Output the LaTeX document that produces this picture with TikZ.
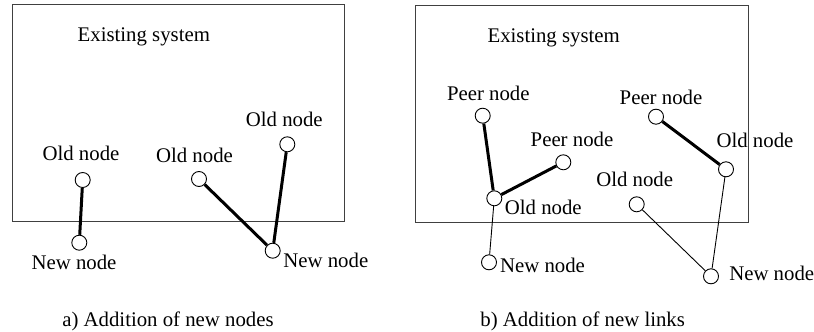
\documentclass[tikz,border=0pt]{standalone}
\usepackage{fontspec}
\setmainfont{Liberation Serif}
\begin{document}
\begin{tikzpicture}[x=1pt,y=-1pt,
  pt/.style={circle,draw,line width=0.9pt,minimum size=15pt,inner sep=0pt,fill=white},
  lbl/.style={anchor=base,inner sep=0pt,font=\fontsize{20.8}{24}\selectfont},
  heavy/.style={line width=3pt},
  light/.style={line width=0.9pt},
  sysbox/.style={draw=black!75,line width=1pt}]
\useasboundingbox (0,0) rectangle (814,332);
% boxes
\draw[sysbox] (12,4) rectangle (344,221);
\draw[sysbox] (415,5) rectangle (748,222);
% ---- panel a
\node[lbl] (sysA) at (143.8,41.7) {Existing system};
\node[pt] (o1) at (82.7,180) {};
\node[pt] (n1) at (79.3,242.7) {};
\node[pt] (o2) at (199,179) {};
\node[pt] (o3) at (287.3,144.3) {};
\node[pt] (n2) at (272.7,250.7) {};
\node[lbl] (lo1) at (81,160.7) {Old node};
\node[lbl] (ln1) at (74,269.3) {New node};
\node[lbl] (lo2) at (194.5,162.7) {Old node};
\node[lbl] (lo3) at (284.3,126.7) {Old node};
\node[lbl] (ln2) at (325.8,267.7) {New node};
\node[lbl] (capA) at (168,326) {a) Addition of new nodes};
\draw[heavy] (o1) -- (n1);
\draw[heavy] (o2) -- (n2);
\draw[heavy] (o3) -- (n2);
% ---- panel b
\node[lbl] (sysB) at (553.7,42.7) {Existing system};
\node[pt] (p1) at (482.7,115.7) {};
\node[pt] (oa) at (494.3,198.3) {};
\node[pt] (p2) at (563.3,162.3) {};
\node[pt] (n3) at (489,262.3) {};
\node[pt] (p3) at (656,116.7) {};
\node[pt] (ob) at (726,169.3) {};
\node[pt] (oc) at (636.7,204.3) {};
\node[pt] (n4) at (711,276.3) {};
\node[lbl] (lp1) at (488.3,100) {Peer node};
\node[lbl] (lp2) at (572,146.7) {Peer node};
\node[lbl] (loa) at (543.3,214.3) {Old node};
\node[lbl] (ln3) at (542.5,272.7) {New node};
\node[lbl] (lp3) at (661,104) {Peer node};
\node[lbl] (lob) at (755,147.7) {Old node};
\node[lbl] (loc) at (634.7,186.7) {Old node};
\node[lbl] (ln4) at (771.7,280) {New node};
\node[lbl] (capB) at (582.7,326) {b) Addition of new links};
\draw[heavy] (p1) -- (oa);
\draw[heavy] (oa) -- (p2);
\draw[light] (oa) -- (n3);
\draw[heavy] (p3) -- (ob);
\draw[light] (ob) -- (n4);
\draw[light] (oc) -- (n4);
\end{tikzpicture}
\end{document}
